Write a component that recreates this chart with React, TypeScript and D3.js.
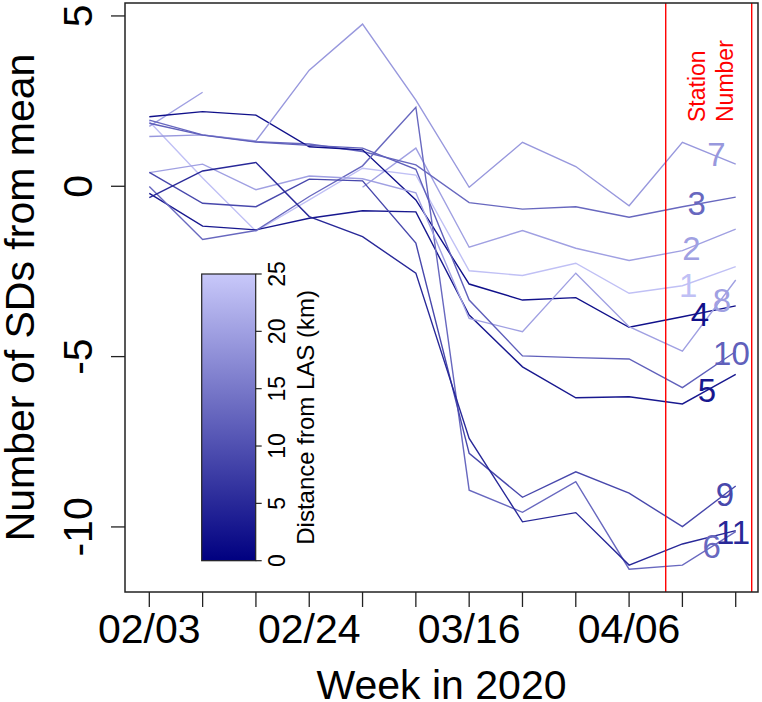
import React from "react";
import * as d3 from "d3";

const weeks = ["02/03","02/10","02/17","02/24","03/02","03/09","03/16","03/23","03/30","04/06","04/13","04/20"];
const labeledWeeks = ["02/03","02/24","03/16","04/06"];
const yTicks = [-10, -5, 0, 5];
const cbTicks = [0, 5, 10, 15, 20, 25];

const stationNames = ["1","2","3","4","5","6","7","8","9","10","11"];
const distances = [24, 20, 13, 2, 3, 13, 19, 20, 9, 12, 5];

const s1 = [1.9, 0.24, -1.32, -0.4, 0.53, 0.33, -2.48, -2.62, -2.26, -3.14, -2.92, -2.36];
const s2 = [1.76, 2.76, null, null, -0.03, 1.12, -1.79, -1.3, -1.82, -2.18, -1.89, -1.26];
const s3 = [1.94, 1.51, 1.31, 1.24, 1.02, 0.63, -0.48, -0.67, -0.6, -0.91, -0.6, -0.32];
const s4 = [2.04, 2.19, 2.09, 1.16, 1.07, -0.4, -2.87, -3.34, -3.27, -4.14, -3.83, -3.51];
const s5 = [-0.21, -1.17, -1.28, -0.94, -0.72, -0.75, -3.78, -5.3, -6.21, -6.18, -6.39, -5.52];
const s6 = [-0.01, -1.56, -1.3, -0.3, 0.6, 2.32, -8.92, -9.57, -8.67, -11.24, -11.12, -10.14];
const s7 = [1.46, 1.51, 1.33, 3.41, 4.76, 2.53, -0.03, 1.29, 0.58, -0.57, 1.29, 0.65];
const s8 = [0.4, 0.65, -0.1, 0.3, 0.22, -0.19, -3.88, -4.27, -2.55, -4.12, -4.84, -2.75];
const s9 = [0.41, -0.5, -0.6, 0.21, 0.16, -1.67, -7.84, -9.13, -8.38, -9.01, -9.99, -8.8];
const s10 = [1.85, 1.5, 1.3, 1.2, 1.12, 0.5, -3.34, -4.98, -5.03, -5.07, -5.91, -4.85];
const s11 = [-0.33, 0.45, 0.7, -0.89, -1.48, -2.55, -7.4, -9.85, -9.58, -11.12, -10.5, -10.11];
const series = [s1, s2, s3, s4, s5, s6, s7, s8, s9, s10, s11];

// label anchor positions in data units (week index, value), station order 1..11
const labelX = [10.11, 10.17, 10.27, 10.33, 10.46, 10.55, 10.64, 10.74, 10.8, 10.92, 10.95];
const labelY = [-2.9, -1.84, -0.52, -3.75, -6.0, -10.58, 0.92, -3.35, -9.06, -4.91, -10.15];

const redLinesAt = [9.687, 11.3];

const FONT = "'Liberation Sans', Arial, Helvetica, sans-serif";

export default function App() {
  const W = 762, H = 702;
  const left = 125, right = 758, top = 3, bottom = 592;
  const x = d3.scaleLinear().domain([-0.456, 11.418]).range([left, right]);
  const y = d3.scaleLinear().domain([-11.91, 5.38]).range([bottom, top]);
  const color = d3.scaleLinear<string>().domain([0, 25]).range(["#000080", "#c8c8fa"]).interpolate(d3.interpolateRgb);
  const cb = d3.scaleLinear().domain([0, 25]).range([560.7, 274]);
  const cbLeft = 201.7, cbRight = 255.7;

  const line = d3.line<number | null>()
    .defined((d) => d != null)
    .x((_, i) => x(i))
    .y((d) => y(d as number));

  const stops = d3.range(0, 26, 1);

  return (
    <svg width={W} height={H} style={{ position: "absolute", left: 0, top: 0, background: "#fff" }} fontFamily={FONT}>
      <defs>
        <linearGradient id="cbgrad" x1="0" y1="1" x2="0" y2="0">
          {stops.map((v) => (
            <stop key={v} offset={v / 25} stopColor={color(v)} />
          ))}
        </linearGradient>
      </defs>
      <rect x={0} y={0} width={W} height={H} fill="#fff" />

      {/* series lines */}
      {series.map((s, k) => (
        <path key={k} d={line(s) || ""} fill="none" stroke={color(distances[k])} strokeWidth={1.4} strokeLinejoin="miter" />
      ))}

      {/* station labels */}
      {stationNames.map((n, k) => (
        <text key={n} x={x(labelX[k])} y={y(labelY[k])} fill={color(distances[k])} fontSize={33}
          textAnchor="middle" dominantBaseline="central">{n}</text>
      ))}

      {/* red lines */}
      {redLinesAt.map((v) => (
        <line key={v} x1={x(v)} x2={x(v)} y1={top} y2={bottom} stroke="#ff0000" strokeWidth={1.4} />
      ))}
      <text transform={`translate(705,122) rotate(-90)`} fill="#ff0000" fontSize={23} textAnchor="start">Station</text>
      <text transform={`translate(733,122) rotate(-90)`} fill="#ff0000" fontSize={23} textAnchor="start">Number</text>

      {/* colorbar */}
      <rect x={cbLeft} y={cb(25)} width={cbRight - cbLeft} height={cb(0) - cb(25)} fill="url(#cbgrad)" stroke="#222" strokeWidth={1.2} />
      {cbTicks.map((t) => (
        <g key={t}>
          <line x1={cbRight} x2={cbRight + 6} y1={cb(t)} y2={cb(t)} stroke="#222" strokeWidth={1.2} />
          <text transform={`translate(285,${cb(t)}) rotate(-90)`} fontSize={23} textAnchor="middle" fill="#000">{t}</text>
        </g>
      ))}
      <text transform={`translate(314,${(cb(0) + cb(25)) / 2}) rotate(-90)`} fontSize={24} textAnchor="middle" fill="#000">Distance from LAS (km)</text>

      {/* box */}
      <rect x={left} y={top} width={right - left} height={bottom - top} fill="none" stroke="#222" strokeWidth={1.5} />

      {/* x axis */}
      {weeks.map((w, i) => (
        <line key={w} x1={x(i)} x2={x(i)} y1={bottom} y2={bottom + 15} stroke="#222" strokeWidth={1.3} />
      ))}
      {labeledWeeks.map((w) => (
        <text key={w} x={x(weeks.indexOf(w))} y={643} fontSize={41} textAnchor="middle" fill="#000">{w}</text>
      ))}
      <text x={(left + right) / 2} y={699} fontSize={41} textAnchor="middle" fill="#000">Week in 2020</text>

      {/* y axis */}
      {yTicks.map((t) => (
        <g key={t}>
          <line x1={left - 14} x2={left} y1={y(t)} y2={y(t)} stroke="#222" strokeWidth={1.3} />
          <text transform={`translate(92,${y(t)}) rotate(-90)`} fontSize={41} textAnchor="middle" fill="#000">{t}</text>
        </g>
      ))}
      <text transform={`translate(34,${(top + bottom) / 2}) rotate(-90)`} fontSize={41} textAnchor="middle" fill="#000">Number of SDs from mean</text>
    </svg>
  );
}
